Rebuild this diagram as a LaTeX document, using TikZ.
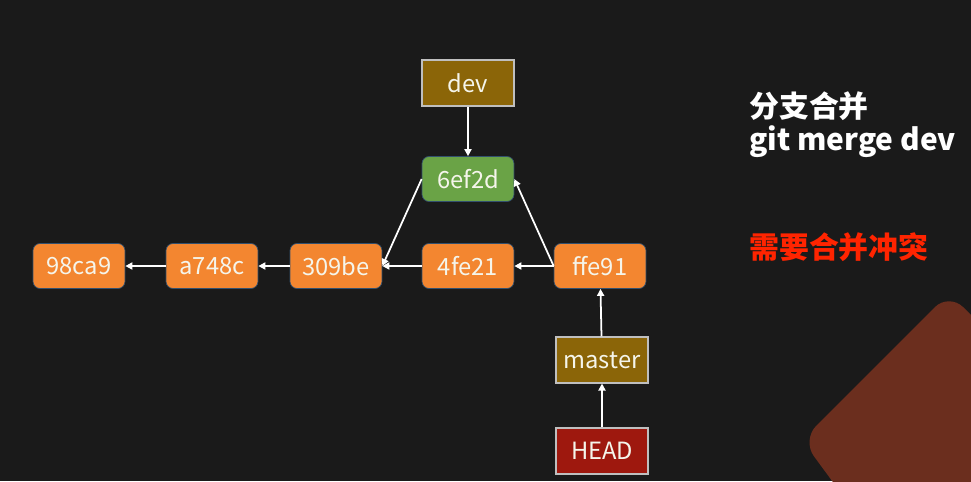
\documentclass[tikz,border=0pt]{standalone}
\usepackage{fontspec}
\setmainfont{Noto Sans CJK SC}
\usetikzlibrary{arrows.meta}
\definecolor{bg}{RGB}{26,26,26}
\definecolor{commitorange}{RGB}{243,134,48}
\definecolor{commitgreen}{RGB}{106,163,70}
\definecolor{commitline}{RGB}{50,80,110}
\definecolor{branchbrown}{RGB}{139,101,8}
\definecolor{headred}{RGB}{158,24,14}
\definecolor{alertred}{RGB}{255,36,0}
\definecolor{decobrown}{RGB}{107,46,30}
\definecolor{labelwhite}{RGB}{245,245,235}
\begin{document}
\begin{tikzpicture}[x = 0.02cm, y = -0.02cm,
  commit/.style = {draw = commitline, fill = commitorange, rounded corners = 4pt,
    minimum width = 1.84cm, minimum height = 0.9cm, text = labelwhite, font = \fontsize{13.5}{16}\selectfont},
  pointer/.style = {draw = black!25, fill = branchbrown, line width = 0.6pt,
    minimum width = 1.84cm, minimum height = 0.92cm, text = labelwhite, font = \fontsize{13.5}{16}\selectfont},
  arrow/.style = {-{Triangle[length = 4pt, width = 4pt]}, white, line width = 1pt},
  side/.style = {anchor = west, inner sep = 0, font = \fontsize{17}{20}\selectfont\bfseries}]
\useasboundingbox (0,0) rectangle (971,481);
\fill [bg] (0,0) rectangle (971,481);
\begin{scope}
\clip (0,0) rectangle (971,481);
\fill [decobrown, rounded corners = 0.4cm] (949,293) -- (1120,464) -- (949,640) -- (802,440) -- cycle;
\end{scope}
% commits
\node [commit] (c1) at (79,266) {98ca9};
\node [commit] (c2) at (212,266) {a748c};
\node [commit] (c3) at (336,266) {309be};
\node [commit] (c4) at (468,266) {4fe21};
\node [commit] (c5) at (600,266) {ffe91};
\node [commit, fill = commitgreen] (c6) at (468,179) {6ef2d};
% branches
\node [pointer] (dev) at (468,83) {dev};
\node [pointer] (master) at (602,360) {master};
\node [pointer, fill = headred] (head) at (602,451) {HEAD};
\foreach \a/\b in {c5/c4, c4/c3, c3/c2, c2/c1}
\draw [arrow] (\a) -- (\b);
\draw [arrow] (c5.west) -- (c6.east);
\draw [arrow] (c6.west) -- (c3.east);
\draw [arrow] (dev) -- (c6);
\draw [arrow] (master) -- (c5);
\draw [arrow] (head) -- (master);
% notes
\node [side, white] (title) at (749,106) {分支合并};
\node [side, white] (cmd) at (749,142) {git merge dev};
\node [side, alertred] (warn) at (749,247) {需要合并冲突};
\end{tikzpicture}
\end{document}
